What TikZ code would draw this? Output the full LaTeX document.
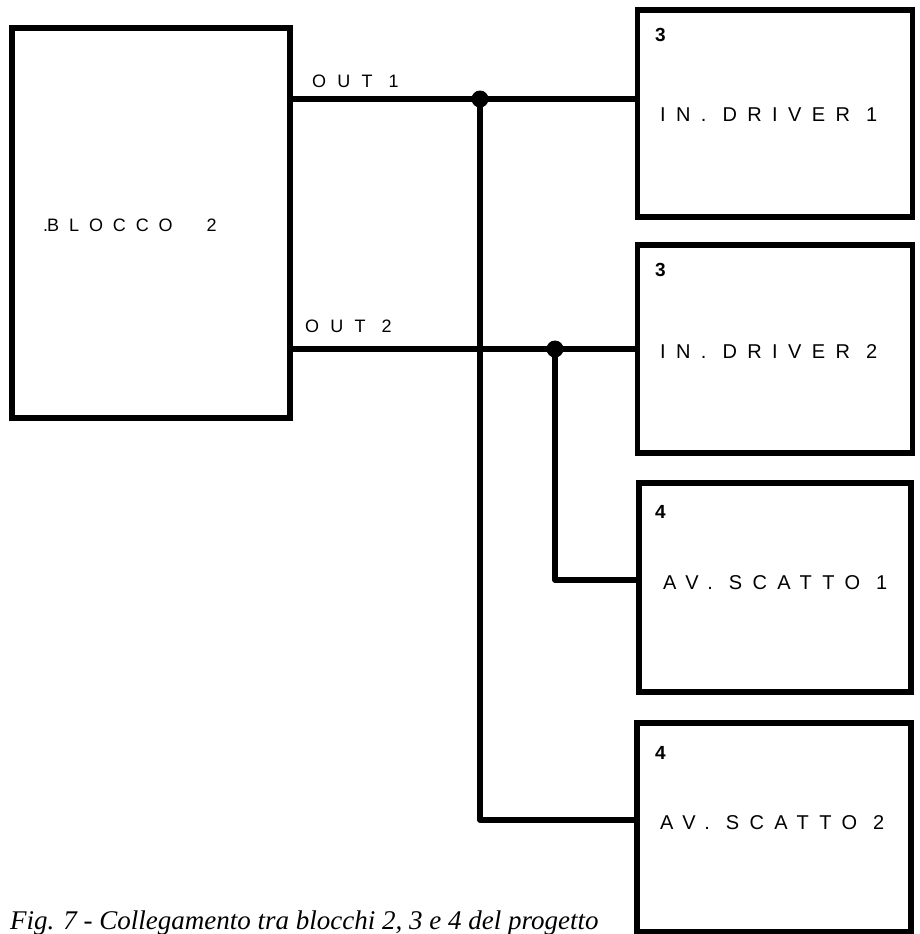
\documentclass[tikz,border=0pt]{standalone}
\usepackage{fontspec}
\setmainfont{Liberation Serif}
\newfontfamily\lblfont[LetterSpace=52]{Liberation Sans}
\newfontfamily\outfont[LetterSpace=62]{Liberation Sans}
\newfontfamily\blkfont[LetterSpace=55]{Liberation Sans}
\newfontfamily\numfont{Liberation Sans}
\begin{document}
\begin{tikzpicture}[x=1pt,y=-1pt,
  blk/.style={draw, line width=5.5pt, rectangle, inner sep=0pt},
  wire/.style={line width=5.5pt, line cap=round, line join=round},
  lbl/.style={anchor=west, inner sep=0pt, font=\lblfont\fontsize{20}{20}\selectfont},
  olbl/.style={anchor=west, inner sep=0pt, font=\outfont\fontsize{18}{18}\selectfont},
  num/.style={anchor=west, inner sep=0pt, font=\numfont\bfseries\fontsize{19}{19}\selectfont},
  dotj/.style={circle, fill, inner sep=0pt, minimum size=17pt}]
\useasboundingbox (0,0) rectangle (919,934);
% blocks
\node[blk, minimum width=278pt, minimum height=390pt] (b2) at (151,223) {};
\node[blk, minimum width=275pt, minimum height=207pt] (d1) at (775,113.5) {};
\node[blk, minimum width=275pt, minimum height=208pt] (d2) at (775,349) {};
\node[blk, minimum width=272pt, minimum height=209pt] (s1) at (775,587.5) {};
\node[blk, minimum width=274pt, minimum height=209pt] (s2) at (774,827.5) {};
% labels
\node[olbl, font=\blkfont\fontsize{18}{18}\selectfont] (tb) at (43,225) {.\hspace{-1pt}BLOCCO\hspace{34pt}2};
\node[olbl] (to1) at (312,81) {OUT 1};
\node[olbl] (to2) at (305,326) {OUT 2};
\node[num] (n1) at (655,35) {3};
\node[num] (n2) at (655,270) {3};
\node[num] (n3) at (655,512) {4};
\node[num] (n4) at (655,753) {4};
\node[lbl] (t1) at (660,115) {IN. DRIVER 1};
\node[lbl] (t2) at (660,352) {IN. DRIVER 2};
\node[lbl] (t3) at (663,583) {AV. SCATTO 1};
\node[lbl] (t4) at (660,823) {AV. SCATTO 2};
% junctions and corners
\coordinate (j1) at (480,99);
\coordinate (j2) at (555,349);
\coordinate (k1) at (480,820);
\coordinate (k2) at (555,580);
\draw[wire] (b2.east |- j1) -- (j1) -- (d1.west |- j1);
\draw[wire] (b2.east |- j2) -- (j2) -- (d2.west |- j2);
\draw[wire] (j1) -- (k1) -- (s2.west |- k1);
\draw[wire] (j2) -- (k2) -- (s1.west |- k2);
\node[dotj] (dj1) at (j1) {};
\node[dotj] (dj2) at (j2) {};
% caption
\node[anchor=base west, inner sep=0pt, font=\itshape\fontsize{27}{27}\selectfont] (cap) at (10,929) {Fig. 7 - Collegamento tra blocchi 2, 3 e 4 del progetto};
\end{tikzpicture}
\end{document}
